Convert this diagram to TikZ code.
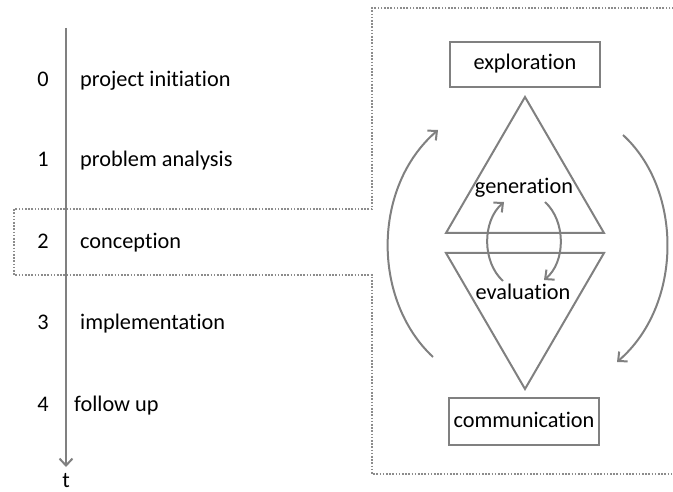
\documentclass[tikz,border=0pt]{standalone}
\usepackage{fontspec}
\setmainfont{Carlito}[Ligatures={NoCommon}]
\usetikzlibrary{arrows.meta}
\definecolor{linegray}{HTML}{808080}
\definecolor{dotgray}{HTML}{8C8C8C}
\tikzset{
  every node/.style={font=\fontsize{22.3}{26}\selectfont, text height=15pt, text depth=4pt, inner sep=0pt},
  lbl/.style={anchor=west},
  num/.style={anchor=center},
  shape line/.style={draw=linegray, line width=2pt},
  boxnode/.style={draw=linegray, line width=2pt, minimum width=150pt, minimum height=45pt},
  arc arrow/.style={draw=linegray, line width=2pt, -{Straight Barb[length=7pt,width=13pt,line width=2pt]}},
  outline/.style={draw=dotgray, line width=1.6pt, dash pattern=on 1.6pt off 1.6pt}
}
\begin{document}
\begin{tikzpicture}[x=1pt,y=-1pt]
\useasboundingbox (0,0) rectangle (673,492);
% dotted outline
\draw[outline] (680,8) -- (372,8) -- (372,209) -- (14,209) -- (14,275) -- (372,275) -- (372,474) -- (680,474);
% timeline
\coordinate (tstart) at (66,28);
\coordinate (tend) at (66,467);
\node[anchor=base, text height=10pt, text depth=0pt] (t) at (66,487) {t};
\draw[arc arrow] (tstart) -- (tend);
% phases
\node[num] (n0) at (43,81.5) {0};
\node[num] (n1) at (43,161.5) {1};
\node[num] (n2) at (43,243.5) {2};
\node[num] (n3) at (43,324.5) {3};
\node[num] (n4) at (43,405.5) {4};
\node[lbl] (p0) at (80,81.5) {project initiation};
\node[lbl] (p1) at (80,161.5) {problem analysis};
\node[lbl] (p2) at (80,243.5) {conception};
\node[lbl] (p3) at (80,324.5) {implementation};
\node[lbl] (p4) at (74,405.5) {follow up};
% boxes
\node[boxnode] (expl) at (525,64.5) {exploration};
\node[boxnode, minimum height=47pt] (comm) at (524,421.5) {communication};
% triangles
\coordinate (ua) at (525,97);
\coordinate (ul) at (446,233);
\coordinate (ur) at (604,233);
\coordinate (ll) at (446,253);
\coordinate (lr) at (604,253);
\coordinate (la) at (525,389);
\draw[shape line, line join=miter] (ua) -- (ur) -- (ul) -- cycle;
\draw[shape line, line join=miter] (ll) -- (lr) -- (la) -- cycle;
\node (gen) at (524,188.5) {generation};
\node (eval) at (523,294.5) {evaluation};
% big cycle arrows
\coordinate (bl0) at (433,357);
\coordinate (bl1) at (438,130);
\coordinate (br0) at (623,135);
\coordinate (br1) at (617,362);
\draw[arc arrow] (bl0) .. controls (372,300) and (372,187) .. (bl1);
\draw[arc arrow] (br0) .. controls (683,190) and (683,305) .. (br1);
% small cycle arrows
\coordinate (sl0) at (503,281);
\coordinate (sl1) at (504,202);
\coordinate (sr0) at (545,202);
\coordinate (sr1) at (544,280);
\draw[arc arrow] (sl0) .. controls (482,262) and (482,221) .. (sl1);
\draw[arc arrow] (sr0) .. controls (566,221) and (566,262) .. (sr1);
\end{tikzpicture}
\end{document}
